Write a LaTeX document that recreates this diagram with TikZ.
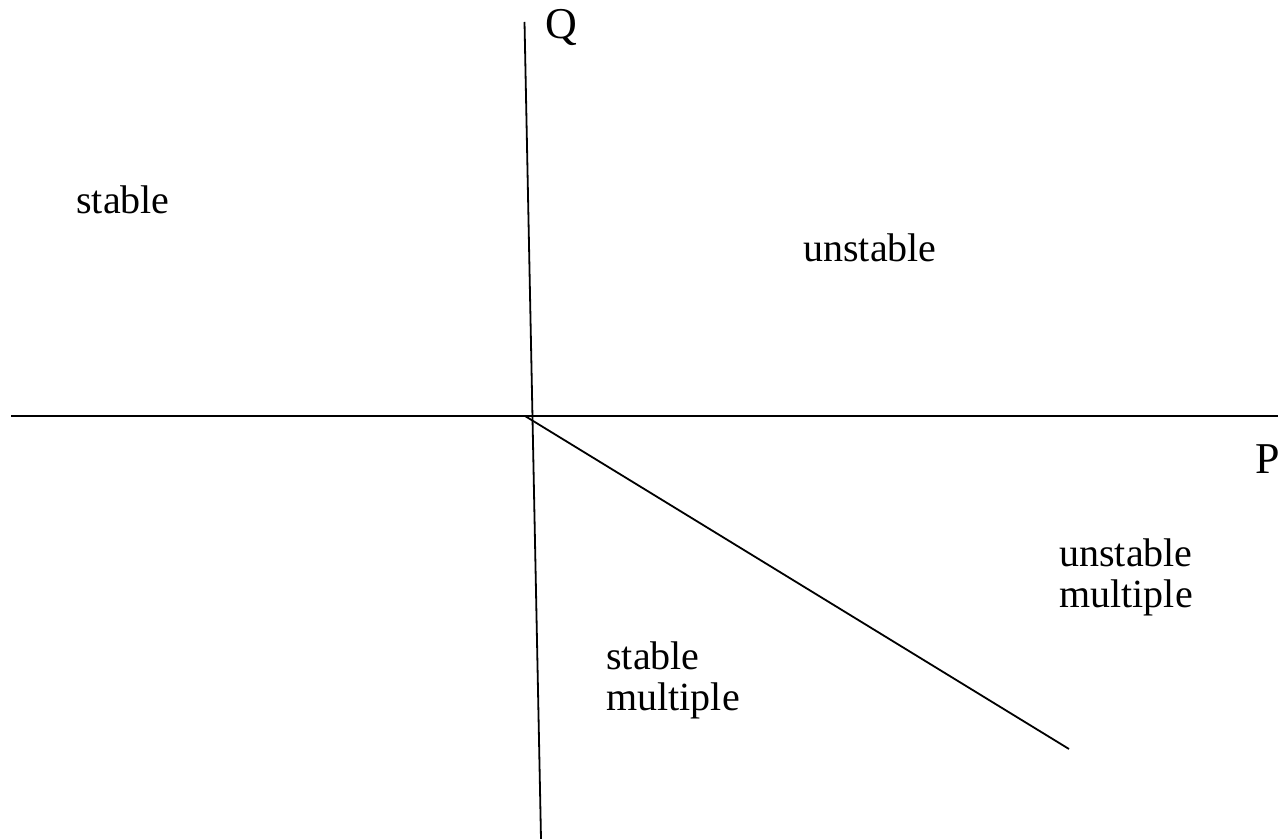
\documentclass[tikz,border=0pt]{standalone}
\usepackage{fontspec}
\setmainfont{Liberation Serif}
\usepackage{tikz}
\usetikzlibrary{positioning,calc}

\tikzset{
  axis/.style={line width=0.9pt,black},
  region/.style={inner sep=0pt,anchor=base west,align=left,font=\fontsize{20}{20.5}\selectfont},
  axlabel/.style={inner sep=0pt,anchor=base west,font=\fontsize{22}{24}\selectfont}
}

\begin{document}
\begin{tikzpicture}[x=0.5pt,y=-0.5pt]
\useasboundingbox (0,0) rectangle (1278,839);
% axes
\coordinate (qtop) at (524.5,22);
\coordinate (qbot) at (541,839);
\coordinate (pleft) at (11,416);
\coordinate (pright) at (1278,416);
\coordinate (orig) at (525,416);
\coordinate (lend) at (1069,749);
\draw[axis] (qtop) -- (qbot);
\draw[axis] (pleft) -- (pright);
\draw[axis] (orig) -- (lend);
% labels
\node[axlabel] (qlab) at (545,39) {Q};
\node[axlabel] (plab) at (1255,473) {P};
\node[region] (st) at (76,214) {stable};
\node[region] (un) at (803,262) {unstable};
\node[region] (unm) at (1059,607) {unstable\\multiple};
\node[region] (stm) at (606,710) {stable\\multiple};
\end{tikzpicture}
\end{document}
